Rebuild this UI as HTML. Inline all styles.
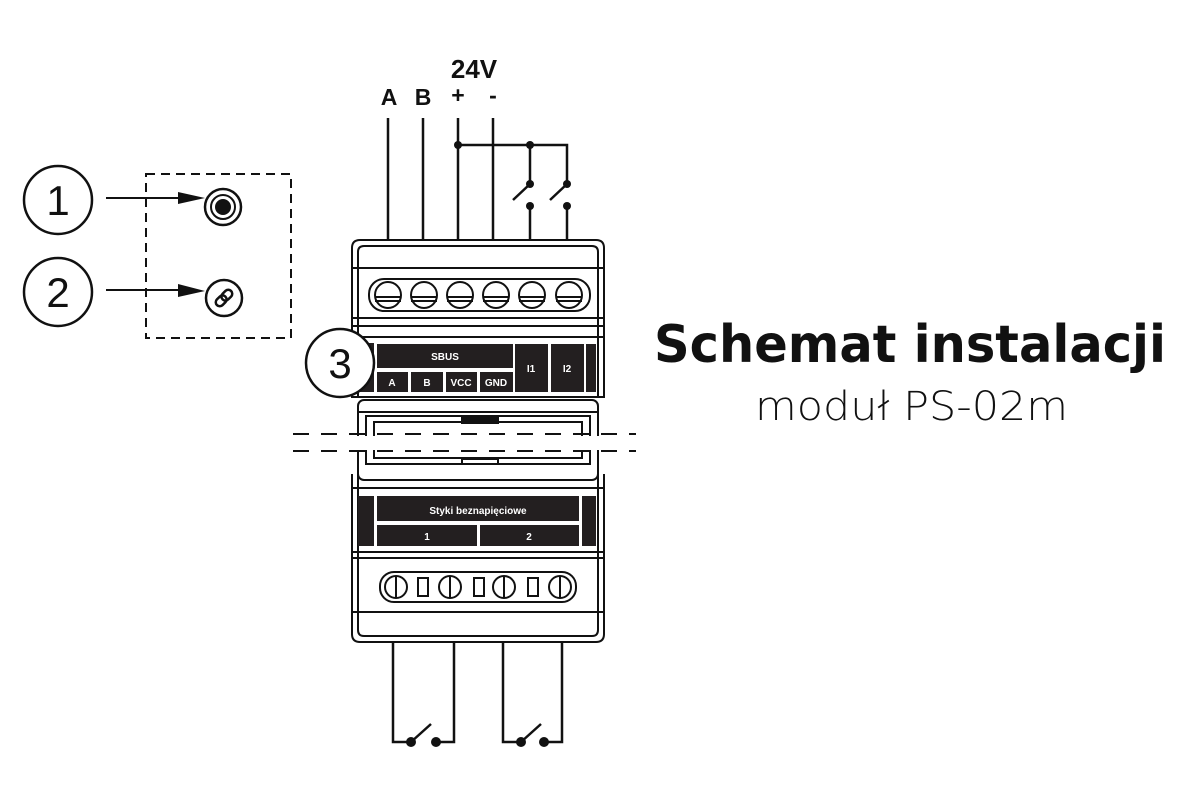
<!DOCTYPE html>
<html><head><meta charset="utf-8"><style>
html,body{margin:0;padding:0;background:#fff;}
svg{display:block;}
</style></head><body>
<svg width="1200" height="800" viewBox="0 0 1200 800" xmlns="http://www.w3.org/2000/svg" font-family="Liberation Sans, Arial, sans-serif">
<rect width="1200" height="800" fill="#fff"/>
<g stroke="#111" fill="none" stroke-width="2.5">
<line x1="388" y1="118" x2="388" y2="240"/>
<line x1="423" y1="118" x2="423" y2="240"/>
<line x1="458" y1="118" x2="458" y2="240"/>
<line x1="493" y1="118" x2="493" y2="240"/>
<polyline points="458,145 567,145 567,184"/>
<line x1="530" y1="145" x2="530" y2="184"/>
<line x1="530" y1="206" x2="530" y2="240"/>
<line x1="567" y1="206" x2="567" y2="240"/>
<line x1="513" y1="200" x2="530" y2="184"/>
<line x1="550" y1="200" x2="567" y2="184"/>
</g>
<g fill="#111">
<circle cx="458" cy="145" r="4"/><circle cx="530" cy="145" r="4"/>
<circle cx="530" cy="184" r="4"/><circle cx="567" cy="184" r="4"/>
<circle cx="530" cy="206" r="4"/><circle cx="567" cy="206" r="4"/>
</g>
<g font-weight="bold" font-size="23" fill="#111" text-anchor="middle">
<text x="474" y="78" font-size="26">24V</text>
<text x="389" y="105">A</text>
<text x="423" y="105">B</text>
<text x="458" y="103">+</text>
<text x="493" y="103">-</text>
</g>

<g stroke="#111" fill="none" stroke-width="2">
<path d="M352,330 L352,248 Q352,240 360,240 L596,240 Q604,240 604,248 L604,330"/>
<path d="M358,330 L358,252 Q358,246 364,246 L592,246 Q598,246 598,252 L598,330"/>
<line x1="352" y1="268" x2="604" y2="268"/>
<rect x="369" y="279" width="221" height="32" rx="15"/>
<line x1="352" y1="318" x2="604" y2="318"/>
<line x1="352" y1="326" x2="604" y2="326"/>
<line x1="352" y1="330" x2="352" y2="398"/>
<line x1="358" y1="330" x2="358" y2="398"/>
<line x1="598" y1="330" x2="598" y2="398"/>
<line x1="604" y1="330" x2="604" y2="398"/>
<line x1="352" y1="337" x2="604" y2="337"/>
<line x1="352" y1="397" x2="604" y2="397"/>
<rect x="358" y="400" width="240" height="80" rx="6"/>
<line x1="358" y1="412" x2="598" y2="412"/>
<rect x="366" y="416" width="224" height="48"/>
<rect x="374" y="422" width="208" height="36"/>
<rect x="462" y="418" width="36" height="5" fill="#111"/>
<rect x="462" y="459" width="36" height="5"/>
<path d="M352,474 L352,634 Q352,642 360,642 L596,642 Q604,642 604,634 L604,474"/>
<path d="M358,474 L358,630 Q358,636 364,636 L592,636 Q598,636 598,630 L598,474"/>
<line x1="352" y1="488" x2="604" y2="488"/>
<line x1="352" y1="552" x2="604" y2="552"/>
<line x1="352" y1="558" x2="604" y2="558"/>
<rect x="380" y="572" width="196" height="30" rx="14"/>
<line x1="352" y1="612" x2="604" y2="612"/>
</g>
<g stroke="#111" stroke-width="2" fill="#fff">
<g><circle cx="388" cy="295" r="13"/><line x1="375" y1="297" x2="401" y2="297"/><line x1="375" y1="301" x2="401" y2="301"/></g>
<g><circle cx="424" cy="295" r="13"/><line x1="411" y1="297" x2="437" y2="297"/><line x1="411" y1="301" x2="437" y2="301"/></g>
<g><circle cx="460" cy="295" r="13"/><line x1="447" y1="297" x2="473" y2="297"/><line x1="447" y1="301" x2="473" y2="301"/></g>
<g><circle cx="496" cy="295" r="13"/><line x1="483" y1="297" x2="509" y2="297"/><line x1="483" y1="301" x2="509" y2="301"/></g>
<g><circle cx="532" cy="295" r="13"/><line x1="519" y1="297" x2="545" y2="297"/><line x1="519" y1="301" x2="545" y2="301"/></g>
<g><circle cx="569" cy="295" r="13"/><line x1="556" y1="297" x2="582" y2="297"/><line x1="556" y1="301" x2="582" y2="301"/></g>
<g><circle cx="396" cy="587" r="11"/><line x1="396" y1="576" x2="396" y2="598"/></g>
<rect x="418" y="578" width="10" height="18"/>
<g><circle cx="450" cy="587" r="11"/><line x1="450" y1="576" x2="450" y2="598"/></g>
<rect x="474" y="578" width="10" height="18"/>
<g><circle cx="504" cy="587" r="11"/><line x1="504" y1="576" x2="504" y2="598"/></g>
<rect x="528" y="578" width="10" height="18"/>
<g><circle cx="560" cy="587" r="11"/><line x1="560" y1="576" x2="560" y2="598"/></g>
</g>
<g fill="#231f20">
<rect x="358" y="343" width="16" height="49"/>
<rect x="377" y="344" width="136" height="24"/>
<rect x="377" y="372" width="31" height="20"/>
<rect x="411" y="372" width="32" height="20"/>
<rect x="446" y="372" width="31" height="20"/>
<rect x="480" y="372" width="33" height="20"/>
<rect x="515" y="344" width="33" height="48"/>
<rect x="551" y="344" width="33" height="48"/>
<rect x="586" y="344" width="10" height="48"/>
<rect x="358" y="496" width="16" height="50"/>
<rect x="377" y="496" width="202" height="25"/>
<rect x="377" y="525" width="100" height="21"/>
<rect x="480" y="525" width="99" height="21"/>
<rect x="582" y="496" width="14" height="50"/>
</g>
<g fill="#fff" font-weight="bold" font-size="10" text-anchor="middle">
<text x="445" y="360">SBUS</text>
<text x="392" y="386">A</text>
<text x="427" y="386">B</text>
<text x="461" y="386">VCC</text>
<text x="496" y="386">GND</text>
<text x="531" y="372">I1</text>
<text x="567" y="372">I2</text>
<text x="478" y="514">Styki beznapięciowe</text>
<text x="427" y="540">1</text>
<text x="529" y="540">2</text>
</g>
<rect x="290" y="436" width="350" height="14" fill="#fff"/>
<g stroke="#111" stroke-width="2" stroke-dasharray="16,12">
<line x1="293" y1="434" x2="636" y2="434"/>
<line x1="293" y1="451" x2="636" y2="451"/>
</g>
<g stroke="#111" fill="none" stroke-width="2.5">
<polyline points="393,642 393,742 411,742"/>
<polyline points="454,642 454,742 436,742"/>
<line x1="411" y1="742" x2="431" y2="724"/>
<polyline points="503,642 503,742 521,742"/>
<polyline points="562,642 562,742 544,742"/>
<line x1="521" y1="742" x2="541" y2="724"/>
</g>
<g fill="#111">
<circle cx="411" cy="742" r="5"/><circle cx="436" cy="742" r="5"/>
<circle cx="521" cy="742" r="5"/><circle cx="544" cy="742" r="5"/>
</g>
<g stroke="#111" fill="#fff" stroke-width="2.5">
<circle cx="58" cy="200" r="34"/>
<circle cx="58" cy="292" r="34"/>
<circle cx="340" cy="363" r="34"/>
</g>
<g font-size="42" fill="#111" text-anchor="middle">
<text x="58" y="215">1</text>
<text x="58" y="307">2</text>
<text x="340" y="378">3</text>
</g>
<rect x="146" y="174" width="145" height="164" fill="none" stroke="#111" stroke-width="2" stroke-dasharray="9,6"/>
<g stroke="#111" stroke-width="2">
<line x1="106" y1="198" x2="180" y2="198"/>
<line x1="106" y1="290" x2="180" y2="290"/>
</g>
<polygon points="178,192 205,198 178,204" fill="#111"/>
<polygon points="178,284 205,291 178,297" fill="#111"/>
<g stroke="#111" stroke-width="2.5" fill="none">
<circle cx="223" cy="207" r="18"/>
<circle cx="223" cy="207" r="12" stroke-width="2"/>
<circle cx="224" cy="298" r="18"/>
</g>
<circle cx="223" cy="207" r="8" fill="#111"/>
<g stroke="#111" stroke-width="2.5" fill="none" transform="rotate(-45 224 298)">
<rect x="214" y="294" width="12" height="8" rx="4"/>
<rect x="222" y="294" width="12" height="8" rx="4"/>
</g>
<text x="654" y="362" font-family="DejaVu Sans, sans-serif" font-weight="bold" font-size="52" fill="#111" textLength="512" lengthAdjust="spacingAndGlyphs">Schemat instalacji</text>
<text x="755" y="420" font-family="DejaVu Sans ExtraLight, DejaVu Sans, sans-serif" font-weight="300" font-size="40" fill="#111" textLength="313" lengthAdjust="spacingAndGlyphs">moduł PS-02m</text>
</svg>
</body></html>
